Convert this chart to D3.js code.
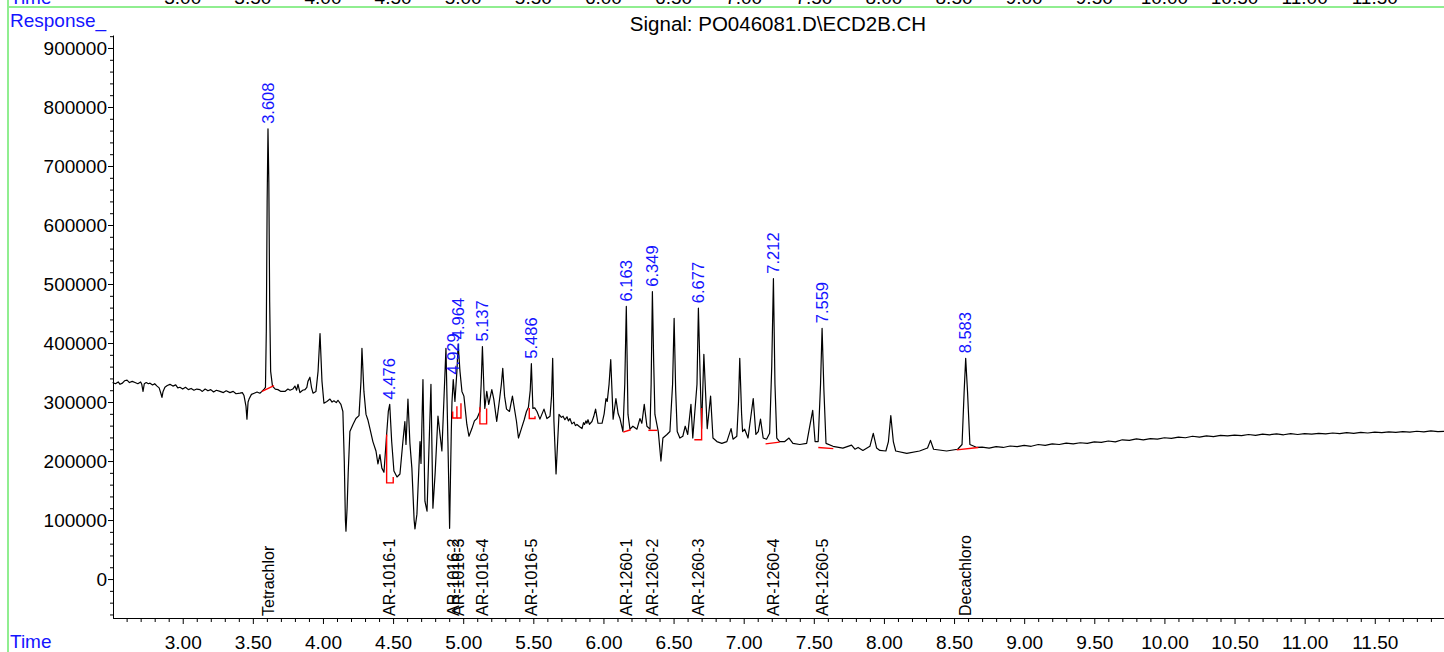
<!DOCTYPE html>
<html>
<head>
<meta charset="utf-8">
<script src="https://cdn.jsdelivr.net/npm/d3@7"></script>
<style>
  html, body { margin: 0; padding: 0; background: #fff; }
  svg { display: block; font-family: "Liberation Sans", Arial, sans-serif; }
</style>
</head>
<body>
<svg id="chart" width="1444" height="652"></svg>
<script>
// ---------------- DATA ----------------
const title = "Signal: PO046081.D\\ECD2B.CH";
const yAxisTitle = "Response_";
const xAxisTitle = "Time";

const xTickValues = [3.0, 3.5, 4.0, 4.5, 5.0, 5.5, 6.0, 6.5, 7.0, 7.5, 8.0, 8.5, 9.0, 9.5, 10.0, 10.5, 11.0, 11.5];
const yTickValues = [0, 100000, 200000, 300000, 400000, 500000, 600000, 700000, 800000, 900000];

const times = [
  2.500, 2.520, 2.540, 2.553, 2.570, 2.585, 2.603, 2.620, 2.640, 2.660, 2.680, 2.700, 2.708, 2.717, 2.726,
  2.740, 2.755, 2.767, 2.785, 2.800, 2.817, 2.832, 2.845, 2.852, 2.860, 2.873, 2.890, 2.909, 2.930, 2.950,
  2.965, 2.980, 3.000, 3.020, 3.040, 3.060, 3.080, 3.100, 3.123, 3.140, 3.160, 3.180, 3.200, 3.220, 3.240,
  3.266, 3.290, 3.310, 3.337, 3.360, 3.380, 3.408, 3.425, 3.437, 3.451, 3.458, 3.466, 3.473, 3.490, 3.510,
  3.530, 3.550, 3.565, 3.580, 3.590, 3.596, 3.602, 3.608, 3.614, 3.620, 3.627, 3.640, 3.660, 3.679, 3.700,
  3.729, 3.750, 3.765, 3.785, 3.800, 3.812, 3.822, 3.836, 3.855, 3.872, 3.885, 3.893, 3.907, 3.918, 3.929,
  3.950, 3.965, 3.979, 3.993, 4.007, 4.028, 4.050, 4.065, 4.078, 4.095, 4.107, 4.128, 4.142, 4.152, 4.160,
  4.164, 4.172, 4.180, 4.192, 4.214, 4.235, 4.257, 4.271, 4.278, 4.292, 4.307, 4.320, 4.335, 4.356, 4.378,
  4.392, 4.406, 4.420, 4.435, 4.454, 4.466, 4.476, 4.490, 4.506, 4.528, 4.549, 4.570, 4.584, 4.592, 4.606,
  4.620, 4.634, 4.650, 4.656, 4.670, 4.692, 4.699, 4.713, 4.727, 4.742, 4.770, 4.784, 4.800, 4.820, 4.848,
  4.877, 4.891, 4.903, 4.915, 4.920, 4.929, 4.941, 4.955, 4.964, 4.977, 4.991, 5.005, 5.026, 5.041, 5.062,
  5.080, 5.098, 5.119, 5.128, 5.137, 5.148, 5.154, 5.168, 5.182, 5.204, 5.218, 5.239, 5.260, 5.272, 5.282,
  5.295, 5.309, 5.330, 5.351, 5.380, 5.394, 5.415, 5.435, 5.451, 5.465, 5.478, 5.486, 5.497, 5.510, 5.526,
  5.547, 5.576, 5.597, 5.619, 5.630, 5.638, 5.647, 5.662, 5.683, 5.700, 5.712, 5.725, 5.740, 5.750, 5.761,
  5.775, 5.790, 5.800, 5.811, 5.830, 5.847, 5.858, 5.865, 5.875, 5.882, 5.890, 5.900, 5.918, 5.930, 5.944,
  5.961, 5.990, 6.005, 6.018, 6.027, 6.040, 6.052, 6.069, 6.089,
  6.105, 6.118, 6.139, 6.152, 6.163, 6.175, 6.189, 6.210, 6.239, 6.260, 6.274, 6.291, 6.310, 6.332, 6.340,
  6.349, 6.358, 6.367, 6.391, 6.410, 6.424, 6.453, 6.474, 6.493, 6.504, 6.515, 6.526, 6.545, 6.566, 6.583,
  6.601, 6.624, 6.637, 6.667, 6.677, 6.690, 6.700, 6.716, 6.731, 6.740, 6.764, 6.781, 6.809, 6.844, 6.880,
  6.910, 6.924, 6.951, 6.963, 6.972, 6.985, 6.992, 7.007, 7.031, 7.068, 7.087, 7.104, 7.120, 7.139, 7.163,
  7.185, 7.200, 7.212, 7.223, 7.236, 7.256, 7.293, 7.323, 7.351, 7.400, 7.449, 7.468, 7.492, 7.509, 7.531,
  7.548, 7.559, 7.572, 7.587, 7.637, 7.707, 7.769, 7.793, 7.816, 7.850, 7.900, 7.924, 7.948, 7.971, 8.014,
  8.032, 8.049, 8.067, 8.084, 8.163, 8.254, 8.311, 8.332, 8.354, 8.447, 8.526, 8.557, 8.572, 8.583, 8.596,
  8.613, 8.663, 8.700, 8.750, 8.800, 8.850, 8.900, 8.950, 9.000, 9.050, 9.100, 9.150, 9.200, 9.250, 9.300,
  9.350, 9.400, 9.450, 9.500, 9.550, 9.600, 9.650, 9.700, 9.750, 9.800, 9.850, 9.900, 9.950, 10.000, 10.050,
  10.100, 10.150, 10.200, 10.250, 10.300, 10.350, 10.400, 10.450, 10.500, 10.550, 10.600, 10.650, 10.700, 10.750, 10.800,
  10.850, 10.900, 10.950, 11.000, 11.050, 11.100, 11.150, 11.200, 11.250, 11.300, 11.350, 11.400, 11.450, 11.500, 11.550,
  11.600, 11.650, 11.700, 11.750, 11.800, 11.850, 11.900, 11.950, 12.000
];
const responses = [
  333000, 331000, 334000, 330000, 332000, 336000, 337000, 333000, 335000, 333000, 331000, 334000, 330000, 318000, 331000,
  333000, 331000, 332000, 329000, 331000, 327000, 324000, 314000, 308000, 318000, 325000, 328000, 330000, 327000, 329000,
  324000, 325000, 322000, 325000, 321000, 323000, 320000, 322000, 321000, 318000, 322000, 319000, 321000, 317000, 320000,
  318000, 316000, 319000, 316000, 318000, 314000, 315000, 316000, 311000, 293000, 271000, 300000, 305000, 313000, 315000,
  317000, 315000, 318000, 322000, 325000, 420000, 640000, 763000, 673000, 470000, 352000, 327000, 322000, 321000, 318000,
  318000, 322000, 320000, 322000, 327000, 320000, 330000, 316000, 320000, 321000, 325000, 335000, 342000, 325000, 315000,
  318000, 352000, 416000, 335000, 298000, 301000, 305000, 300000, 302000, 299000, 303000, 296000, 284000, 200000, 100000,
  81000, 120000, 180000, 250000, 262000, 272000, 277000, 335000, 391000, 318000, 279000, 270000, 255000, 233000, 217000,
  195000, 211000, 188000, 181000, 245000, 284000, 296000, 233000, 183000, 173000, 178000, 233000, 267000, 228000, 305000,
  230000, 188000, 100000, 85000, 110000, 233000, 196000, 338000, 132000, 115000, 330000, 120000, 180000, 276000, 217000,
  391000, 233000, 86000, 250000, 300000, 338000, 301000, 352000, 398000, 352000, 318000, 310000, 262000, 242000, 255000,
  268000, 272000, 284000, 330000, 394000, 320000, 289000, 318000, 296000, 321000, 305000, 267000, 306000, 330000, 357000,
  310000, 288000, 284000, 310000, 267000, 239000, 255000, 270000, 284000, 291000, 320000, 365000, 289000, 290000, 284000,
  271000, 288000, 272000, 276000, 310000, 374000, 267000, 178000, 279000, 274000, 276000, 270000, 275000, 268000, 272000,
  263000, 266000, 260000, 262000, 258000, 255000, 265000, 262000, 268000, 264000, 270000, 262000, 267000, 275000, 288000,
  264000, 264000, 280000, 306000, 301000, 330000, 372000, 271000, 306000,
  280000, 272000, 250000, 330000, 462000, 279000, 254000, 259000, 254000, 272000, 264000, 296000, 259000, 254000, 330000,
  487000, 370000, 279000, 250000, 200000, 239000, 245000, 250000, 330000, 442000, 320000, 250000, 239000, 242000, 259000,
  245000, 296000, 239000, 330000, 459000, 340000, 255000, 381000, 301000, 255000, 310000, 239000, 233000, 230000, 233000,
  255000, 237000, 242000, 300000, 374000, 280000, 250000, 254000, 239000, 306000, 245000, 250000, 271000, 239000, 237000,
  247000, 360000, 509000, 330000, 239000, 233000, 233000, 239000, 230000, 228000, 230000, 255000, 286000, 233000, 233000,
  330000, 425000, 320000, 230000, 225000, 222000, 227000, 220000, 223000, 218000, 225000, 247000, 222000, 218000, 217000,
  233000, 277000, 233000, 217000, 213000, 217000, 222000, 235000, 220000, 217000, 220000, 228000, 318000, 374000, 318000,
  228000, 223000, 223500, 222000, 224500, 223000, 225500, 224500, 226500, 225000, 228000, 226500, 229000, 228000, 230500,
  229000, 231000, 230000, 232500, 231500, 234000, 232500, 236000, 235000, 237500, 236000, 238000, 237000, 239500, 238500,
  240500, 239500, 242000, 240500, 242500, 241500, 243500, 242500, 244000, 243000, 245000, 243500, 245500, 244500, 246000,
  244500, 246500, 245000, 246500, 245500, 247000, 246000, 247500, 246500, 248000, 247000, 248500, 247500, 249000, 248000,
  249500, 248500, 250000, 249000, 250500, 249500, 251000, 250000, 250500
];

// integrated peaks: retention time label + apex response
const peakRT = [3.608, 4.476, 4.929, 4.964, 5.137, 5.486, 6.163, 6.349, 6.677, 7.212, 7.559, 8.583];
const peakLabels = ["3.608", "4.476", "4.929", "4.964", "5.137", "5.486", "6.163", "6.349", "6.677", "7.212", "7.559", "8.583"];
const peakApex = [763000, 296000, 338000, 398000, 394000, 365000, 462000, 487000, 459000, 509000, 425000, 374000];

// integration baselines (time, response) per peak
const baselines = [
  [[3.565, 318000], [3.651, 328000]],
  [[4.454, 245000], [4.454, 163000], [4.501, 163000], [4.501, 173000]],
  [[4.925, 284000], [4.925, 273000], [4.955, 273000], [4.955, 293000]],
  [[4.955, 273000], [4.984, 273000], [4.984, 298000]],
  [[5.119, 291000], [5.119, 263000], [5.167, 263000], [5.167, 289000]],
  [[5.471, 290000], [5.471, 272000], [5.512, 272000], [5.512, 276000]],
  [[6.141, 249000], [6.194, 253000]],
  [[6.320, 252000], [6.384, 252000]],
  [[6.648, 236000], [6.700, 236000], [6.700, 290000]],
  [[7.156, 229000], [7.256, 232000]],
  [[7.532, 223000], [7.639, 221000]],
  [[8.519, 219000], [8.673, 223000]]
];

// compound names at their expected retention times
const compoundNames = ["Tetrachlor", "AR-1016-1", "AR-1016-2", "AR-1016-3", "AR-1016-4", "AR-1016-5",
  "AR-1260-1", "AR-1260-2", "AR-1260-3", "AR-1260-4", "AR-1260-5", "Decachloro"];
const compoundRT = [3.608, 4.476, 4.929, 4.964, 5.137, 5.486, 6.163, 6.349, 6.677, 7.212, 7.559, 8.583];

// ---------------- DRAW ----------------
const svg = d3.select("#chart");
const blue = "#1414ff";
const green = "#90ee90";
const fontSize = 19;

const x = d3.scaleLinear().domain([2.5, 12.0]).range([112.6, 1444.9]);
const y = d3.scaleLinear().domain([-66000, 922000]).range([618, 35]);
const axisY = 618, axisX = 113;

// frame (top strip from previous panel)
svg.append("line").attr("x1", 8).attr("x2", 1444).attr("y1", 7).attr("y2", 7)
  .attr("stroke", green).attr("stroke-width", 2);
svg.append("line").attr("x1", 8).attr("x2", 8).attr("y1", 0).attr("y2", 652)
  .attr("stroke", green).attr("stroke-width", 2);
svg.append("text").attr("x", 10).attr("y", 3.5).attr("fill", blue)
  .attr("font-size", fontSize).text(xAxisTitle);
svg.append("g").selectAll("text").data(xTickValues).join("text")
  .attr("x", d => x(d)).attr("y", 3.5).attr("text-anchor", "middle")
  .attr("font-size", fontSize).attr("fill", "#000").text(d => d.toFixed(2));

// titles
svg.append("text").attr("x", 10).attr("y", 27).attr("fill", blue)
  .attr("font-size", fontSize).text(yAxisTitle);
svg.append("text").attr("x", 10).attr("y", 648).attr("fill", blue)
  .attr("font-size", fontSize).text(xAxisTitle);
svg.append("text").attr("x", 778).attr("y", 31).attr("text-anchor", "middle")
  .attr("font-size", 20.5).attr("fill", "#000").text(title);

// y axis
const yMinor = d3.range(-60000, 922000, 20000).filter(v => v % 100000 !== 0);
const gyMinor = svg.append("g").attr("transform", `translate(${axisX},0)`)
  .call(d3.axisLeft(y).tickValues(yMinor).tickSize(3).tickFormat(""));
gyMinor.select(".domain").remove();
const gy = svg.append("g").attr("transform", `translate(${axisX},0)`)
  .call(d3.axisLeft(y).tickValues(yTickValues).tickSize(5).tickSizeOuter(0).tickPadding(1)
    .tickFormat(d3.format("d")));
gy.selectAll("text").attr("font-size", fontSize).attr("font-family", "Liberation Sans, Arial, sans-serif");

// x axis
const xMinor = d3.range(2.6, 12.0, 0.1).map(v => Math.round(v * 10) / 10)
  .filter(v => Math.round(v * 10) % 5 !== 0);
const gxMinor = svg.append("g").attr("transform", `translate(0,${axisY})`)
  .call(d3.axisBottom(x).tickValues(xMinor).tickSize(4).tickFormat(""));
gxMinor.select(".domain").remove();
const gx = svg.append("g").attr("transform", `translate(0,${axisY})`)
  .call(d3.axisBottom(x).tickValues(xTickValues).tickSize(6).tickSizeOuter(0).tickPadding(12)
    .tickFormat(d3.format(".2f")));
gx.selectAll("text").attr("font-size", fontSize).attr("font-family", "Liberation Sans, Arial, sans-serif");
svg.selectAll(".domain").attr("stroke", "#000");

// trace
const trace = times.map((t, i) => [t, responses[i]]);
svg.append("path").datum(trace)
  .attr("fill", "none").attr("stroke", "#000").attr("stroke-width", 1.2)
  .attr("stroke-linejoin", "round")
  .attr("d", d3.line().x(d => x(d[0])).y(d => y(d[1])));

// integration baselines
svg.append("g").selectAll("path").data(baselines).join("path")
  .attr("fill", "none").attr("stroke", "#ff0000").attr("stroke-width", 1.4)
  .attr("d", d3.line().x(d => x(d[0])).y(d => y(d[1])));

// peak labels
svg.append("g").selectAll("text").data(peakRT).join("text")
  .attr("transform", (d, i) => `translate(${x(d)},${y(peakApex[i]) - 5}) rotate(-90)`)
  .attr("dy", "0.35em").attr("text-anchor", "start")
  .attr("font-size", 16.5).attr("fill", blue)
  .text((d, i) => peakLabels[i]);

// compound names
svg.append("g").selectAll("text").data(compoundRT).join("text")
  .attr("transform", d => `translate(${x(d)},${axisY - 2}) rotate(-90)`)
  .attr("dy", "0.35em").attr("text-anchor", "start")
  .attr("font-size", 16).attr("fill", "#000")
  .text((d, i) => compoundNames[i]);
</script>
</body>
</html>
